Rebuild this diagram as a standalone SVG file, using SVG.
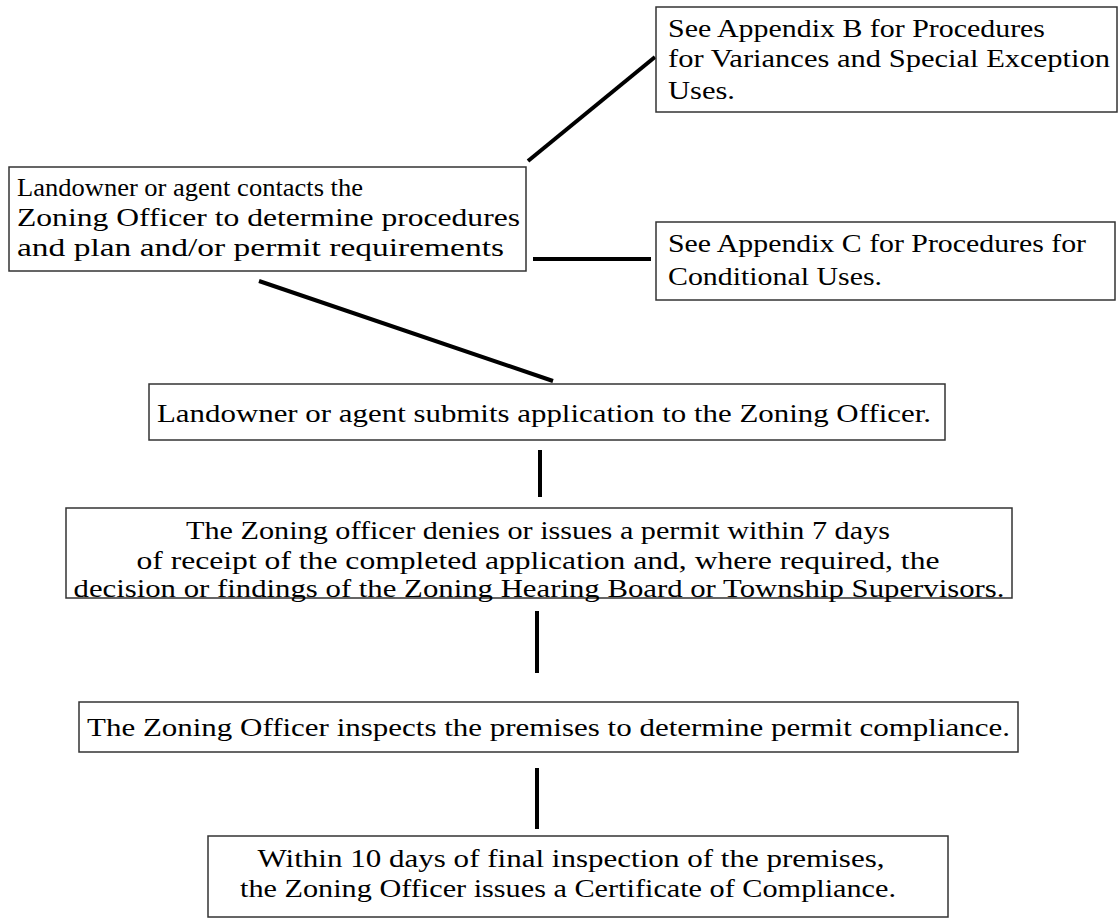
<svg xmlns="http://www.w3.org/2000/svg" width="1119" height="920" viewBox="0 0 1119 920">
<style>
.box{fill:#fff;stroke:#333;stroke-width:1.5}
.t{font-family:"Liberation Serif","DejaVu Serif",serif;font-size:26px;fill:#000}
.c{text-anchor:middle}
.ln{stroke:#000;stroke-width:4;fill:none}
</style>
<rect width="1119" height="920" fill="#fff"/>
<g id="connectors">
<line class="ln" x1="528" y1="161" x2="655" y2="57"/>
<line class="ln" x1="533" y1="259" x2="651" y2="259"/>
<line class="ln" x1="259" y1="281" x2="553" y2="381"/>
<line class="ln" x1="540" y1="450" x2="540" y2="497"/>
<line class="ln" x1="537" y1="611" x2="537" y2="673"/>
<line class="ln" x1="537" y1="768" x2="537" y2="829"/>
</g>
<g id="n1">
<rect class="box" x="9" y="167" width="517" height="104"/>
<text class="t" x="17" y="196" textLength="346" lengthAdjust="spacingAndGlyphs">Landowner or agent contacts the</text>
<text class="t" x="17" y="226" textLength="503" lengthAdjust="spacingAndGlyphs">Zoning Officer to determine procedures</text>
<text class="t" x="17" y="256" textLength="487" lengthAdjust="spacingAndGlyphs">and plan and/or permit requirements</text>
</g>
<g id="n2">
<rect class="box" x="656" y="7" width="461" height="105"/>
<text class="t" x="668" y="37" textLength="377" lengthAdjust="spacingAndGlyphs">See Appendix B for Procedures</text>
<text class="t" x="668" y="67" textLength="442" lengthAdjust="spacingAndGlyphs">for Variances and Special Exception</text>
<text class="t" x="668" y="99" textLength="67" lengthAdjust="spacingAndGlyphs">Uses.</text>
</g>
<g id="n3">
<rect class="box" x="656" y="222" width="459" height="78"/>
<text class="t" x="668" y="252" textLength="418" lengthAdjust="spacingAndGlyphs">See Appendix C for Procedures for</text>
<text class="t" x="668" y="285" textLength="214" lengthAdjust="spacingAndGlyphs">Conditional Uses.</text>
</g>
<g id="n4">
<rect class="box" x="149" y="384" width="796" height="56"/>
<text class="t" x="157" y="422" textLength="774" lengthAdjust="spacingAndGlyphs">Landowner or agent submits application to the Zoning Officer.</text>
</g>
<g id="n5">
<rect class="box" x="66" y="508" width="946" height="90"/>
<text class="t c" x="538" y="539" textLength="704" lengthAdjust="spacingAndGlyphs">The Zoning officer denies or issues a permit within 7 days</text>
<text class="t c" x="538" y="569" textLength="803" lengthAdjust="spacingAndGlyphs">of receipt of the completed application and, where required, the</text>
<text class="t c" x="539" y="597" textLength="931" lengthAdjust="spacingAndGlyphs">decision or findings of the Zoning Hearing Board or Township Supervisors.</text>
</g>
<g id="n6">
<rect class="box" x="79" y="702" width="939" height="50"/>
<text class="t" x="87" y="736" textLength="923" lengthAdjust="spacingAndGlyphs">The Zoning Officer inspects the premises to determine permit compliance.</text>
</g>
<g id="n7">
<rect class="box" x="208" y="836" width="740" height="81"/>
<text class="t c" x="571" y="867" textLength="627" lengthAdjust="spacingAndGlyphs">Within 10 days of final inspection of the premises,</text>
<text class="t c" x="568" y="897" textLength="656" lengthAdjust="spacingAndGlyphs">the Zoning Officer issues a Certificate of Compliance.</text>
</g>
</svg>
